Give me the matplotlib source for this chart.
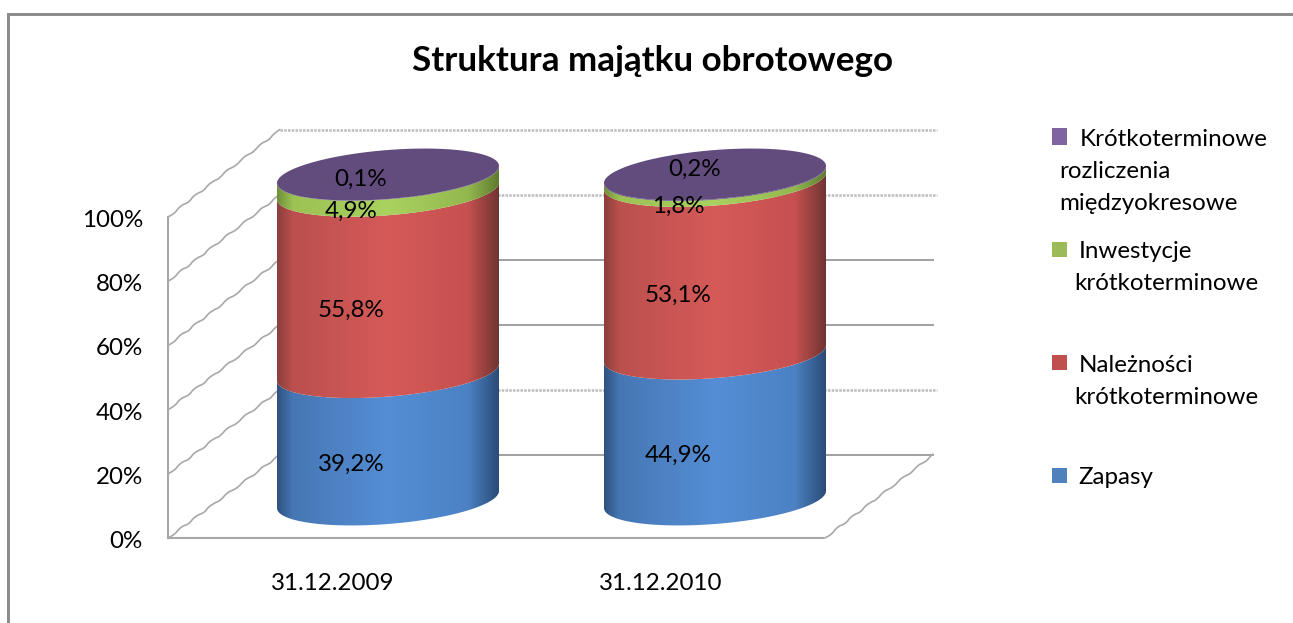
import numpy as np
import matplotlib
matplotlib.use('Agg')
import matplotlib.pyplot as plt
from matplotlib.colors import LinearSegmentedColormap
from matplotlib.patches import Polygon, Rectangle
from matplotlib.transforms import ScaledTranslation

W, H = 1293, 623
plt.rcParams['font.family'] = ['Lato', 'DejaVu Sans']

# dane
dates = ['31.12.2009', '31.12.2010']
zapasy = [39.2, 44.9]
naleznosci = [55.8, 53.1]
inwestycje = [4.9, 1.8]
rozliczenia = [0.1, 0.2]
y_ticks = [0, 20, 40, 60, 80, 100]
title = 'Struktura majątku obrotowego'

series = [zapasy, naleznosci, inwestycje, rozliczenia]
shades = [('#2f527f', '#4677b4', '#558ed5', '#4c82c4', '#2b4c78'),
          ('#8a3f3d', '#bb504e', '#d55a58', '#c65150', '#703533'),
          ('#6f8f3a', '#9cc254', '#a9d25f', '#93b84e', '#5f7c30'),
          ('#4c3a63', '#5d4878', '#604a7b', '#5d4878', '#4c3a63')]
cap_color = '#624c7e'
stops = [0, 0.07, 0.5, 0.86, 1]
fs = 17.4

fig = plt.figure(figsize=(W / 100, H / 100), dpi=100)


def px_box(x0, y_top, x1, y_bottom):
    return [x0 / W, 1 - y_bottom / H, (x1 - x0) / W, (y_bottom - y_top) / H]


# ramka
fig.add_artist(Rectangle((7 / W, 0), 3 / W, 1 - 14 / H, color='#8c8c8c', lw=0))
fig.add_artist(Rectangle((7 / W, 1 - 16 / H), 1 - 7 / W, 3 / H, color='#8c8c8c', lw=0))

# sciany wykresu
wall = fig.add_axes(px_box(168, 217, 825, 538))
wall.set_xlim(-0.5, 1.5)
wall.set_ylim(0, 100)
wall.patch.set_visible(False)
wall.spines[['top', 'right']].set_visible(False)
wall.spines[['left', 'bottom']].set_color('#a8a8a8')
wall.spines[['left', 'bottom']].set_linewidth(1.5)
wall.spines[['left', 'bottom']].set_linestyle((0, (1, 0.9)))
wall.set_xticks(range(len(dates)), dates, fontsize=fs)
wall.set_yticks(y_ticks, [f'{t}%' for t in y_ticks], fontsize=fs)
wall.tick_params(length=0)
wall.tick_params(axis='x', pad=25.5)
wall.tick_params(axis='y', pad=18)
for lbl in wall.get_yticklabels():
    lbl.set_transform(lbl.get_transform() + ScaledTranslation(0, -1.5 / 100, fig.dpi_scale_trans))

back_x0, back_x1 = -0.159, 1.829
for t in y_ticks:
    back_y = 25.9 + t * 1.012
    line, = wall.plot([-0.5, back_x0], [t, back_y], color='#a8a8a8', lw=1.2, clip_on=False)
    line.set_sketch_params(scale=0.7, length=22, randomness=2)
    if t in (0, 40, 60):
        wall.plot([back_x0, back_x1], [back_y, back_y], color='#a0a0a0', lw=1.4, clip_on=False)
    else:
        wall.plot([back_x0, back_x1 + 0.012], [back_y, back_y], color='#bcbcbc', lw=1.8,
                  ls=(0, (1, 0.5)), clip_on=False)
diag, = wall.plot([1.5, back_x1], [0, 25.9], color='#a8a8a8', lw=1.2, clip_on=False)
diag.set_sketch_params(scale=0.7, length=22, randomness=2)

# walce: os x w kategoriach, os y w procentach
scale_x, scale_y = 327, 3.25
base_px = 499.5
cyl = fig.add_axes([0, 0, 1, 1])
cyl.patch.set_visible(False)
cyl.axis('off')
a = 111 / scale_x
b = 24.5 / scale_y
tilt = 0.077 * scale_x / scale_y
t_front = np.linspace(np.pi, 2 * np.pi, 120)


def rim(c, v, t):
    return c + a * np.cos(t), v + b * np.sin(t) + tilt * a * np.cos(t)


for i in range(len(dates)):
    base = 0
    for k, values in enumerate(series):
        top = base + values[i]
        x0, y0 = rim(i, base, t_front)
        x1, y1 = rim(i, top, t_front[::-1])
        clip = Polygon(np.column_stack([np.r_[x0, x1], np.r_[y0, y1]]), transform=cyl.transData)
        cmap = LinearSegmentedColormap.from_list('s', list(zip(stops, shades[k])))
        im = cyl.imshow(np.linspace(0, 1, 256)[None, :], cmap=cmap, aspect='auto',
                        extent=(i - a, i + a, base - 2 * b, top + 2 * b), zorder=2 + k * 0.1)
        im.set_clip_path(clip)

        label = f'{values[i]:.1f}%'.replace('.', ',')
        if k < 3:
            cyl.text(i - 37 / scale_x, base + values[i] / 2 - 28.5 / scale_y, label,
                     ha='center', va='center', fontsize=fs, zorder=5)
        base = top

    xs, ys = rim(i, base, np.linspace(0, 2 * np.pi, 240))
    cyl.fill(xs, ys, color=cap_color, lw=0, zorder=3)

# etykiety wierzchu
cyl.text(-27 / scale_x, 98.4, '0,1%', ha='center', va='center', fontsize=fs, zorder=5)
cyl.text(1 - 20 / scale_x, 101.6, '0,2%', ha='center', va='center', fontsize=fs, zorder=5)

cyl.set_xlim(-388 / scale_x, (W - 388) / scale_x)
cyl.set_ylim((base_px - H) / scale_y, base_px / scale_y)

# tytul
fig.text(652 / W, 1 - 61 / H, title, ha='center', va='center', fontsize=25.2, fontweight='bold')

# legenda
legend_colors = ['#8064a2', '#9bbb59', '#c0504d', '#4f81bd']
legend_boxes = [(128, 145), (242, 257), (355, 370), (468, 483)]
legend_lines = [[('Krótkoterminowe', 1080, 140), ('rozliczenia', 1059, 172), ('międzyokresowe', 1059, 204)],
                [('Inwestycje', 1079, 252), ('krótkoterminowe', 1074, 284)],
                [('Należności', 1079, 365), ('krótkoterminowe', 1074, 397)],
                [('Zapasy', 1078, 478)]]
for color, (y0, y1), lines in zip(legend_colors, legend_boxes, legend_lines):
    fig.add_artist(Rectangle((1052 / W, 1 - y1 / H), 15 / W, (y1 - y0) / H, color=color, lw=0))
    for text, x, y in lines:
        fig.text(x / W, 1 - y / H, text, ha='left', va='center', fontsize=fs)

fig.savefig('out.png', dpi=100)
